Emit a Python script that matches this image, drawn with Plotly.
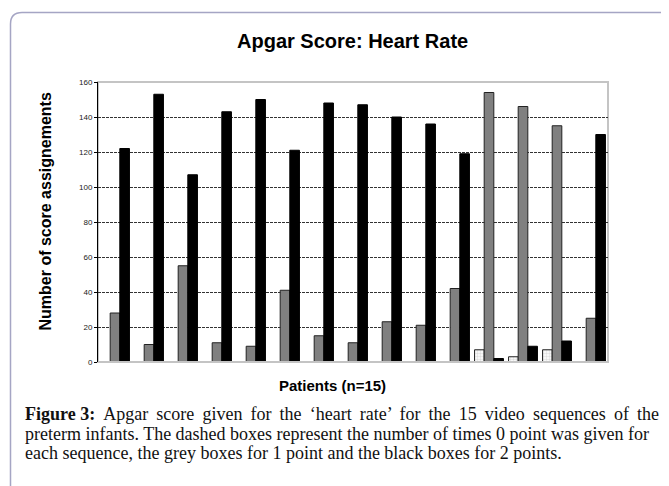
import plotly.graph_objects as go

patients = list(range(1, 16))
zero_pt = [0, 0, 0, 0, 0, 0, 0, 0, 0, 0, 0, 7, 3, 7, 0]
one_pt = [28, 10, 55, 11, 9, 41, 15, 11, 23, 21, 42, 154, 146, 135, 25]
two_pt = [122, 153, 107, 143, 150, 121, 148, 147, 140, 136, 119, 2, 9, 12, 130]
y_ticks = [0, 20, 40, 60, 80, 100, 120, 140, 160]

# page body has an 8px margin; work in reference-pixel coordinates and shift
OFF = 8
W, H = 669 - OFF, 486 - OFF
L, R, T, B = 98 - OFF, 608 - OFF, 82 - OFF, 362 - OFF


def px(x):
    return (x - OFF - L) / (R - L)


def py(y):
    return (B - (y - OFF)) / (B - T)


fig = go.Figure()
fig.add_trace(go.Bar(
    x=patients, y=zero_pt, name="0 point",
    marker=dict(color="white", line=dict(color="#222222", width=1),
                pattern=dict(shape=".", fgcolor="#bdbdbd", bgcolor="white", size=3, solidity=0.5)),
))
fig.add_trace(go.Bar(
    x=patients, y=one_pt, name="1 point",
    marker=dict(color="#808080", line=dict(color="#222222", width=1)),
))
fig.add_trace(go.Bar(
    x=patients, y=two_pt, name="2 points",
    marker=dict(color="#000000", line=dict(color="#000000", width=1)),
))

fig.update_layout(
    width=W, height=H,
    margin=dict(l=L, r=W - R, t=T, b=H - B, autoexpand=False),
    paper_bgcolor="white", plot_bgcolor="white",
    barmode="group", bargap=0.15, bargroupgap=0,
    showlegend=False,
    font=dict(family="Liberation Sans, Arial", color="#000"),
)
fig.update_xaxes(range=[0.5, 15.5], showticklabels=False, showgrid=False, zeroline=False,
                 showline=False, ticks="")
fig.update_yaxes(range=[0, 160], tickvals=y_ticks, showgrid=True, gridcolor="#333333",
                 griddash="3px,1px", gridwidth=1, zeroline=False,
                 showline=True, linecolor="#000000", linewidth=1,
                 ticks="outside", ticklen=3, tickcolor="#000", tickfont=dict(size=8, color="#222"))

shapes = [
    dict(type="rect", xref="paper", yref="paper", x0=0, x1=1, y0=0, y1=1,
         line=dict(color="#c4c4c4", width=2), layer="below"),
    dict(type="line", xref="paper", yref="paper", x0=0, x1=1, y0=0, y1=0,
         line=dict(color="#c4c4c4", width=2), layer="above"),
    dict(type="path", xref="paper", yref="paper",
         path=f"M {px(10.5)},{py(495)} L {px(10.5)},{py(24)} Q {px(10.5)},{py(12.5)} {px(22)},{py(12.5)} L {px(680)},{py(12.5)}",
         line=dict(color="#a5a5c4", width=1.5)),
]
fig.update_layout(shapes=shapes)

ann = [
    dict(text="<b>Apgar Score: Heart Rate</b>", x=px(352.5), y=py(41), xref="paper", yref="paper",
         showarrow=False, font=dict(size=20), xanchor="center", yanchor="middle"),
    dict(text="<b>Number of score assignements</b>", x=px(45), y=py(211.5), xref="paper", yref="paper",
         showarrow=False, textangle=-90, font=dict(size=16),
         xanchor="center", yanchor="middle"),
    dict(text="<b>Patients (n=15)</b>", x=px(332.5), y=py(385), xref="paper", yref="paper",
         showarrow=False, font=dict(size=15), xanchor="center", yanchor="middle"),
]
caption = [
    "<b>Figure 3:</b> Apgar score given for the \u2018heart rate\u2019 for the 15 video sequences of the",
    "preterm infants. The dashed boxes represent the number of times 0 point was given for",
    "each sequence, the grey boxes for 1 point and the black boxes for 2 points.",
]
extra = ["\u2009", "", ""]
for i, line in enumerate(caption):
    if extra[i]:
        line = line.replace(" ", " " + extra[i]).replace("<b>Figure " + extra[i] + "3:</b>", "<b>Figure 3:</b>")
    ann.append(dict(text=line, x=px(23), y=py(414 + 19.5 * i), xref="paper", yref="paper",
                    showarrow=False, xanchor="left", yanchor="middle",
                    font=dict(size=18, family="Liberation Serif, Times New Roman", color="#111")))
fig.update_layout(annotations=ann)

fig.write_html("out.html")
